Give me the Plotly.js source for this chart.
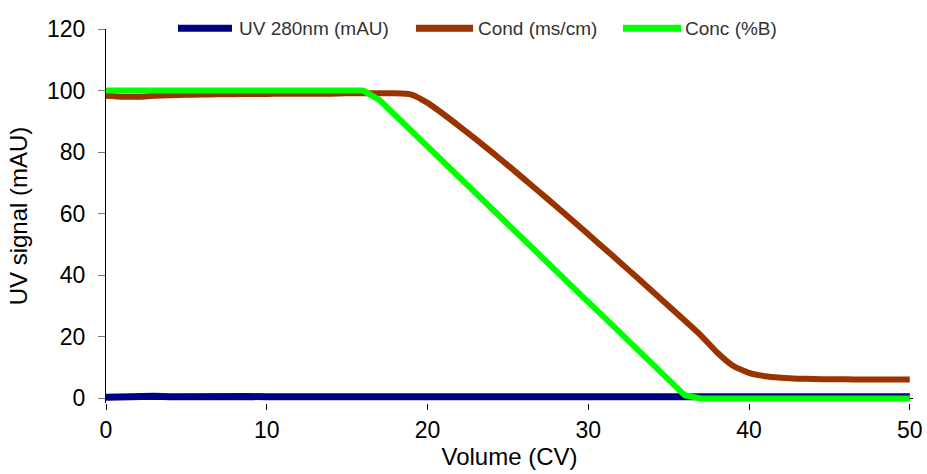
<!DOCTYPE html>
<html>
<head>
<meta charset="utf-8">
<script src="https://cdn.plot.ly/plotly-3.0.1.min.js"></script>
<style>html,body{margin:0;padding:0;background:#fff}#chart{width:927px;height:474px}</style>
</head>
<body>
<div id="chart"></div>
<script>
// Volume (CV)
const volume = [0,1,2,3,4,5,6,7,8,9,10,11,12,13,14,15,16,17,18,19,20,21,22,23,24,25,26,27,28,29,30,31,32,33,34,35,36,37,38,39,40,41,42,43,44,45,46,47,48,49,50];
// UV 280nm (mAU)
const uv = [0.4,0.6,1.0,0.7,0.5,0.6,0.5,0.5,0.5,0.6,0.5,0.5,0.5,0.5,0.5,0.5,0.5,0.5,0.5,0.6,0.5,0.5,0.5,0.5,0.5,0.5,0.5,0.5,0.5,0.5,0.5,0.5,0.5,0.5,0.5,0.5,0.5,0.5,0.5,0.5,0.5,0.6,0.5,0.5,0.5,0.5,0.5,0.5,0.5,0.5,0.5];
// Cond (ms/cm)
const cond = [98.3,98.0,98.0,98.3,98.5,98.6,98.7,98.8,98.8,98.9,98.9,99.0,99.0,99.0,99.0,99.1,99.1,99.1,99.1,98.7,96.0,92.3,88.3,84.2,80.0,75.7,71.3,66.9,62.4,57.9,53.3,48.7,44.1,39.4,34.7,30.0,25.3,20.5,15.0,10.6,8.3,7.2,6.7,6.4,6.3,6.2,6.2,6.1,6.1,6.1,6.1];
// Conc (%B)
const conc = [100,100,100,100,100,100,100,100,100,100,100,100,100,100,100,100,100,97.0,91.9,86.9,81.8,76.8,71.7,66.7,61.6,56.6,51.5,46.5,41.4,36.4,31.3,26.3,21.2,16.2,11.1,6.1,1.0,0,0,0,0,0,0,0,0,0,0,0,0,0,0];
const seriesNames = ["UV 280nm (mAU)", "Cond (ms/cm)", "Conc (%B)"];
const seriesColors = ["#000080", "#993300", "#00FF00"];
const xTicks = [0,10,20,30,40,50];
const yTicks = [0,20,40,60,80,100,120];

const font = "Liberation Sans, Arial, sans-serif";
const traces = [
  {x: volume, y: uv, name: seriesNames[0], mode: "lines", line: {color: seriesColors[0], width: 7}},
  {x: volume, y: cond, name: seriesNames[1], mode: "lines", line: {color: seriesColors[1], width: 6, shape: "spline", smoothing: 0.5}},
  {x: volume, y: conc, name: seriesNames[2], mode: "lines", line: {color: seriesColors[2], width: 6}}
];

// Legend drawn in paper coordinates (layout styling only)
const legendSym = [[0.0892, 0.1561], [0.3841, 0.4548], [0.6406, 0.7125]];
const legendTextX = [0.1636, 0.4597, 0.7162];
const legendY = 1.002;
const shapes = seriesNames.map((n, i) => ({
  type: "line", xref: "paper", yref: "paper", x0: legendSym[i][0], x1: legendSym[i][1], y0: legendY, y1: legendY,
  line: {color: seriesColors[i], width: 7}
}));
const annotations = seriesNames.map((n, i) => ({
  text: n, xref: "paper", yref: "paper", x: legendTextX[i], y: legendY, xanchor: "left", yanchor: "middle",
  showarrow: false, borderpad: 0, font: {family: font, size: 19, color: "#333"}
}));

const layout = {
  width: 927, height: 474,
  margin: {l: 106, r: 14, t: 29, b: 71, autoexpand: false},
  paper_bgcolor: "#fff", plot_bgcolor: "#fff",
  font: {family: font, color: "#000"},
  showlegend: false,
  shapes: shapes,
  annotations: annotations,
  xaxis: {range: [0, 50.2], tickvals: xTicks, ticktext: xTicks.map(String), showgrid: false, zeroline: false,
          showline: false, ticks: "outside", ticklen: 6, tickcolor: "#000", tickfont: {size: 23},
          title: {text: "Volume (CV)", font: {size: 24}, standoff: 2}},
  yaxis: {range: [-1.5, 120], tickvals: yTicks, ticktext: yTicks.map(String), showgrid: false,
          zeroline: true, zerolinecolor: "#000", zerolinewidth: 1,
          showline: true, linecolor: "#000", linewidth: 1, ticks: "outside", ticklen: 7, tickcolor: "#777",
          tickfont: {size: 23}, ticklabelstandoff: 8,
          title: {text: "UV signal (mAU)", font: {size: 24}, standoff: 12}}
};
Plotly.newPlot("chart", traces, layout, {displayModeBar: false, staticPlot: true});
</script>
</body>
</html>
